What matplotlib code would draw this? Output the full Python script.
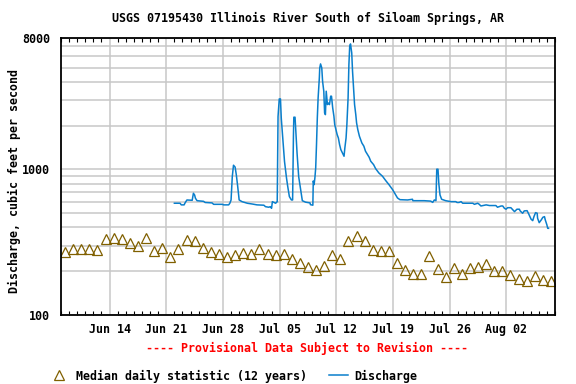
import pandas as pd
import matplotlib
matplotlib.use("Agg")
import matplotlib.pyplot as plt
import matplotlib.dates as mdates
from matplotlib.ticker import FixedLocator, NullFormatter

plt.rcParams['font.family'] = 'DejaVu Sans Mono'
plt.rcParams['font.weight'] = 'bold'
plt.rcParams['font.size'] = 8.4

start = pd.Timestamp('2015-06-08')

# median daily statistic (one per day, starting Jun 8)
median_cfs = [269, 283, 282, 282, 281, 332, 338, 332, 313, 299,
              338, 275, 289, 249, 283, 327, 321, 289, 272, 262,
              250, 258, 267, 262, 284, 262, 258, 264, 244, 229,
              213, 205, 217, 257, 241, 324, 347, 324, 281, 277,
              274, 227, 203, 191, 191, 254, 207, 182, 210, 191,
              210, 214, 223, 202, 200, 188, 177, 171, 185, 175, 171]

# discharge, time in days after Jun 8 00:00
disch_day = [14.0, 14.7, 14.85, 15.2, 15.35, 15.55, 16.2, 16.35, 16.5, 16.6,
             16.8, 17.6, 17.8, 18.65, 18.85, 19.9, 20.1, 20.7, 20.85, 21.0,
             21.15, 21.3, 21.5, 21.65, 21.8, 22.0, 22.35, 23.0, 23.6, 24.2,
             25.05, 25.25, 25.65, 25.85, 26.0, 26.1, 26.5, 26.7, 26.8, 26.95,
             27.1, 27.2, 27.4, 27.6, 27.85, 28.0, 28.2, 28.45, 28.6, 28.7,
             28.75, 28.9, 29.0, 29.15, 29.35, 29.6, 29.8, 30.2, 30.75, 30.8,
             31.1, 31.15, 31.25, 31.35, 31.45, 31.55, 31.65, 31.75, 31.9, 31.95,
             32.05, 32.2, 32.3, 32.45, 32.55, 32.65, 32.75, 32.85, 32.9, 33.0,
             33.15, 33.3, 33.4, 33.55, 33.7, 33.8, 34.0, 34.1, 34.25, 34.4,
             34.55, 34.75, 34.95, 35.05, 35.2, 35.3, 35.45, 35.55, 35.65, 35.75,
             35.9, 36.0, 36.15, 36.25, 36.4, 36.5, 36.65, 36.85, 37.0, 37.15,
             37.4, 37.6, 37.85, 38.05, 38.25, 38.6, 38.85, 39.25, 39.7, 40.1,
             40.5, 40.95, 41.25, 41.55, 41.85, 42.8, 43.4, 43.45, 44.85, 45.65,
             45.9, 46.1, 46.3, 46.4, 46.55, 46.65, 46.8, 47.0, 47.5, 48.15,
             48.75, 48.9, 49.15, 49.4, 49.6, 50.85, 51.05, 51.45, 51.65, 51.85,
             52.5, 52.9, 53.7, 53.9, 54.35, 54.55, 54.75, 54.95, 55.15, 55.55,
             55.8, 56.0, 56.3, 56.6, 56.7, 57.0, 57.2, 57.55, 57.75, 58.05,
             58.25, 58.4, 58.6, 58.8, 58.85, 59.05, 59.3, 59.5, 59.7, 59.8,
             60.0, 60.1, 60.2]
disch_cfs = [586, 586, 571, 571, 593, 617, 614, 686, 667, 634,
             610, 604, 593, 589, 576, 576, 571, 571, 586, 617,
             892, 1069, 1038, 917, 781, 617, 601, 586, 579, 571,
             568, 555, 550, 555, 541, 601, 586, 601, 2306, 3052,
             3052, 2248, 1595, 1134, 870, 762, 651, 617, 617, 1682,
             2285, 2285, 1819, 1292, 892, 723, 610, 596, 589, 573,
             568, 833, 786, 874, 1024, 1481, 2259, 3100, 4255, 4985,
             5309, 4985, 4038, 3447, 2445, 2380, 3447, 3020, 2790, 2864,
             2790, 3186, 3186, 2647, 2320, 2032, 1830, 1735, 1645, 1481,
             1370, 1300, 1232, 1404, 1645, 2032, 3100, 5252, 7025, 7286,
             6320, 4731, 3447, 2790, 2381, 2087, 1877, 1691, 1603, 1521,
             1444, 1334, 1264, 1213, 1138, 1079, 1013, 946, 898, 838,
             786, 726, 679, 637, 620, 617, 624, 610, 610, 606,
             594, 617, 610, 1004, 1004, 804, 668, 624, 610, 601,
             601, 593, 593, 601, 586, 586, 576, 586, 576, 561,
             571, 565, 565, 550, 561, 561, 541, 533, 546, 546,
             527, 513, 533, 533, 519, 500, 519, 521, 495, 455,
             445, 474, 505, 500, 462, 431, 450, 469, 474, 450,
             416, 394, 394]

week_ticks = pd.date_range('2015-06-14', periods=8, freq='7D')

median_dates = start + pd.to_timedelta([i + 0.5 for i in range(len(median_cfs))], unit='D')
disch_dates = start + pd.to_timedelta(disch_day, unit='D')

fig = plt.figure(figsize=(5.76, 3.84), dpi=100)
ax = fig.add_axes([61/576, 1 - 315/384, 494/576, 277/384])

med, = ax.plot(median_dates, median_cfs, linestyle='none', marker='^', ms=6.8,
               mfc='none', mec='#806000', mew=0.9,
               label='Median daily statistic (12 years)')
dis, = ax.plot(disch_dates, disch_cfs, color='#0a7fcc', lw=1.1, label='Discharge')

ax.set_yscale('log')
ax.set_ylim(100, 8000)
ax.set_xlim(start, start + pd.Timedelta(days=61))

ax.yaxis.set_major_locator(FixedLocator([100, 1000, 8000]))
ax.yaxis.set_major_formatter(plt.FuncFormatter(lambda v, p: '%d' % v))
ax.yaxis.set_minor_locator(FixedLocator([200, 300, 400, 500, 600, 700, 800, 900,
                                         2000, 3000, 4000, 5000, 6000, 7000]))
ax.yaxis.set_minor_formatter(NullFormatter())
ax.tick_params(axis='y', which='both', length=0, pad=8)

ax.xaxis.set_major_locator(FixedLocator(mdates.date2num(week_ticks)))
ax.xaxis.set_major_formatter(mdates.DateFormatter('%b %d'))
ax.xaxis.set_minor_locator(mdates.DayLocator())
ax.tick_params(axis='x', which='major', length=0, pad=6)
ax.tick_params(axis='x', which='minor', direction='in', length=3, width=0.8,
               top=True, bottom=True)

ax.grid(True, which='major', color='#c8c8c8', lw=1.1)
ax.grid(True, which='minor', axis='y', color='#c8c8c8', lw=1.1)
ax.set_axisbelow(True)
for s in ax.spines.values():
    s.set_linewidth(1.3)

fig.text(308/576, 1 - 18/384, 'USGS 07195430 Illinois River South of Siloam Springs, AR',
         ha='center', va='center')
fig.text(14/576, 1 - 181/384, 'Discharge, cubic feet per second',
         rotation=90, ha='center', va='center')
fig.text(307/576, 1 - 348/384, '---- Provisional Data Subject to Revision ----',
         color='red', ha='center', va='center')

fig.legend(handles=[med, dis], loc='center left', bbox_to_anchor=(50/576, 1 - 376/384),
           ncol=2, frameon=False, handlelength=1.6, handletextpad=0.6,
           columnspacing=1.9, borderaxespad=0, borderpad=0)

fig.savefig('out.png', dpi=100)
